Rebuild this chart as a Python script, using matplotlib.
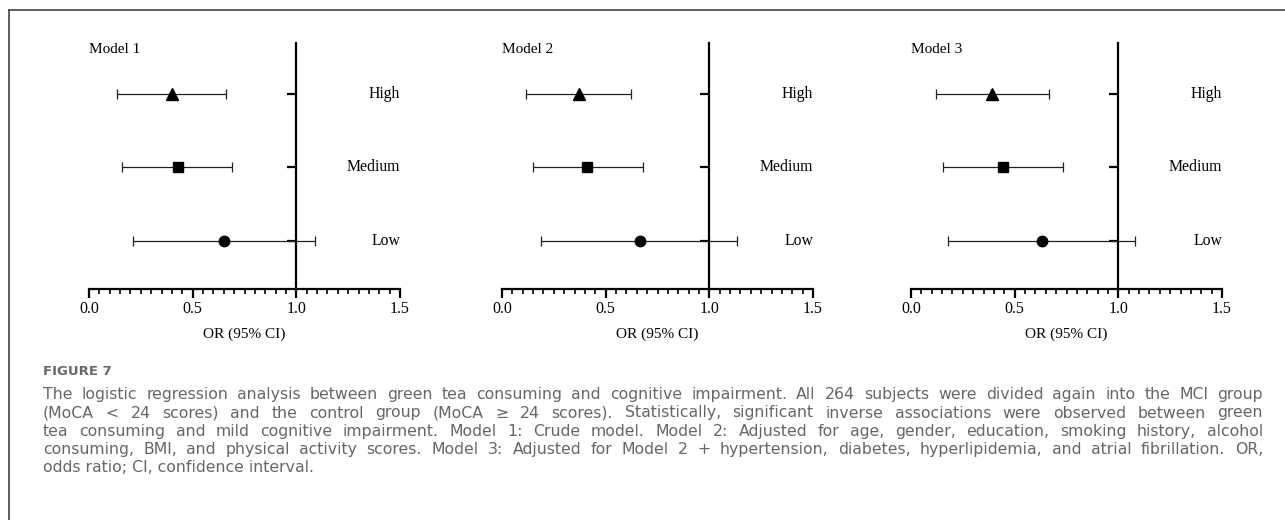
import matplotlib
matplotlib.use('Agg')
import matplotlib.pyplot as plt
from matplotlib.lines import Line2D
from matplotlib.ticker import MultipleLocator

# data: OR and 95% CI per model, rows High / Medium / Low
categories = ['High', 'Medium', 'Low']
rows = [3, 2, 1]
models = ['Model 1', 'Model 2', 'Model 3']
or_m1 = [0.40, 0.43, 0.65]
lo_m1 = [0.135, 0.16, 0.21]
hi_m1 = [0.66, 0.69, 1.09]
or_m2 = [0.37, 0.41, 0.665]
lo_m2 = [0.115, 0.15, 0.19]
hi_m2 = [0.62, 0.68, 1.135]
or_m3 = [0.39, 0.445, 0.63]
lo_m3 = [0.12, 0.155, 0.18]
hi_m3 = [0.665, 0.735, 1.08]
xticks = [0.0, 0.5, 1.0, 1.5]
xlabel = 'OR (95% CI)'

caption_head = 'FIGURE 7'
caption_lines = [
    'The logistic regression analysis between green tea consuming and cognitive impairment. All 264 subjects were divided again into the MCI group',
    '(MoCA < 24 scores) and the control group (MoCA \u2265 24 scores). Statistically, significant inverse associations were observed between green',
    'tea consuming and mild cognitive impairment. Model 1: Crude model. Model 2: Adjusted for age, gender, education, smoking history, alcohol',
    'consuming, BMI, and physical activity scores. Model 3: Adjusted for Model 2 + hypertension, diabetes, hyperlipidemia, and atrial fibrillation. OR,',
    'odds ratio; CI, confidence interval.',
]

W, H = 1285, 520
fig = plt.figure(figsize=(W/100, H/100), dpi=100)
serif = 'Liberation Serif'
markers = ['^', 's', 'o']
msizes = [8, 7.5, 7.5]

data = [(or_m1, lo_m1, hi_m1), (or_m2, lo_m2, hi_m2), (or_m3, lo_m3, hi_m3)]
lefts = [89, 502, 911]
ax_w = 311
ax_top, ax_bot = 43, 289

for k in range(3):
    ax = fig.add_axes([lefts[k]/W, 1 - ax_bot/H, ax_w/W, (ax_bot - ax_top)/H])
    orv, lo, hi = data[k]
    for j in range(3):
        ax.errorbar([orv[j]], [rows[j]],
                    xerr=[[orv[j] - lo[j]], [hi[j] - orv[j]]],
                    fmt=markers[j], ms=msizes[j], color='black', ecolor='#222222',
                    elinewidth=0.9, capsize=3.5, capthick=0.9, zorder=3)
        ax.text(1.5, rows[j], categories[j], ha='right', va='center',
                family=serif, fontsize=11.3)
    ax.set_xlim(0, 1.5)
    ax.set_ylim(0.345, 3.695)
    ax.spines['top'].set_visible(False)
    ax.spines['right'].set_visible(False)
    ax.spines['left'].set_position(('data', 1.0))
    ax.spines['left'].set_linewidth(1.6)
    ax.spines['bottom'].set_linewidth(1.6)
    ax.set_yticks(rows)
    ax.set_yticklabels([])
    ax.tick_params(axis='y', direction='out', length=6.5, width=1.6)
    ax.set_xticks(xticks)
    ax.set_xticklabels(['%.1f' % v for v in xticks], family=serif, fontsize=11.5)
    ax.xaxis.set_minor_locator(MultipleLocator(0.05))
    ax.tick_params(axis='x', which='major', direction='out', length=6.5, width=1.6, pad=2)
    ax.tick_params(axis='x', which='minor', direction='out', length=3.8, width=1.2)
    ax.patch.set_visible(False)
    ax.text(0.0, 1.0, models[k], transform=ax.transAxes, ha='left', va='top',
            family=serif, fontsize=11)
    # x label at pixel row ~334
    ax.text(0.75, -(334 - ax_bot) / (ax_bot - ax_top), xlabel,
            transform=ax.get_xaxis_transform(), ha='center', va='center',
            family=serif, fontsize=11)

# frame lines
fig.add_artist(Line2D([9/W, 1], [1 - 10/H, 1 - 10/H], transform=fig.transFigure,
                      color='#333333', lw=1.1))
fig.add_artist(Line2D([9/W, 9/W], [0, 1 - 10/H], transform=fig.transFigure,
                      color='#333333', lw=1.1))

# caption, justified like the reference
cap_font = 'DejaVu Sans'
cap_color = '#666666'
cap_fs = 11.3
x0, x1 = 43, 1263
fig.text(x0/W, 1 - 375/H, caption_head, family=cap_font, weight='bold',
         fontsize=9.5, color=cap_color, va='baseline')
line_base = [399, 417.5, 436, 454, 472.5]
r = fig.canvas.get_renderer()
for i, line in enumerate(caption_lines):
    y = 1 - line_base[i]/H
    if i == len(caption_lines) - 1:
        fig.text(x0/W, y, line, family=cap_font, fontsize=cap_fs, color=cap_color,
                 va='baseline')
        continue
    words = line.split(' ')
    texts = [fig.text(0, y, w, family=cap_font, fontsize=cap_fs, color=cap_color,
                      va='baseline') for w in words]
    widths = [t.get_window_extent(r).width for t in texts]
    gap = (x1 - x0 - sum(widths)) / (len(words) - 1)
    x = x0
    for t, w in zip(texts, widths):
        t.set_x(x / W)
        x += w + gap

fig.savefig('out.png', dpi=100)
